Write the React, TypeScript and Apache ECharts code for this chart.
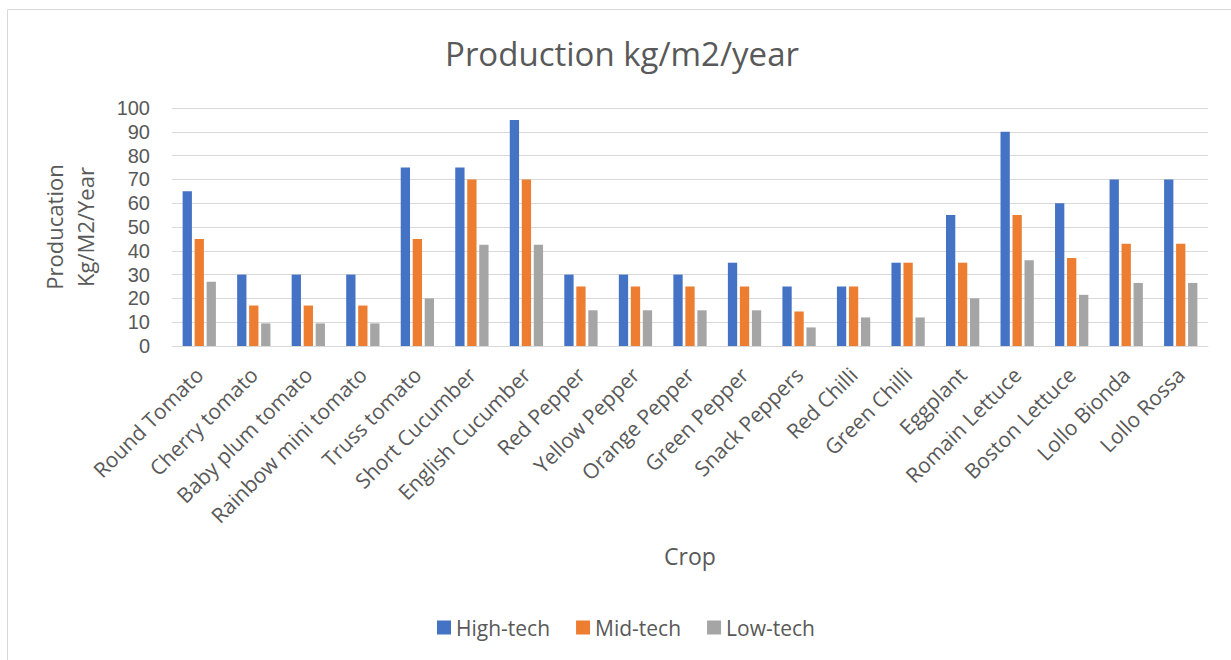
import React, { useEffect, useRef } from "react";
import * as echarts from "echarts";

const categories = [
  "Round Tomato", "Cherry tomato", "Baby plum tomato", "Rainbow mini tomato", "Truss tomato",
  "Short Cucumber", "English Cucumber", "Red Pepper", "Yellow Pepper", "Orange Pepper",
  "Green Pepper", "Snack Peppers", "Red Chilli", "Green Chilli", "Eggplant",
  "Romain Lettuce", "Boston Lettuce", "Lollo Bionda", "Lollo Rossa",
];
const highTech = [65, 30, 30, 30, 75, 75, 95, 30, 30, 30, 35, 25, 25, 35, 55, 90, 60, 70, 70];
const midTech = [45, 17, 17, 17, 45, 70, 70, 25, 25, 25, 25, 14.5, 25, 35, 35, 55, 37, 43, 43];
const lowTech = [27, 9.5, 9.5, 9.5, 20, 42.5, 42.5, 15, 15, 15, 15, 7.8, 12, 12, 20, 36, 21.5, 26.5, 26.5];
const seriesNames = ["High-tech", "Mid-tech", "Low-tech"];
const colors = ["#4472C4", "#ED7D31", "#A5A5A5"];

const FONT = "Open Sans";
const TICK_FONT = "Liberation Sans";
const TEXT = "#595959";

export default function App() {
  const ref = useRef<HTMLDivElement>(null);
  useEffect(() => {
    const chart = echarts.init(ref.current!, null, { renderer: "svg" });
    const values = [highTech, midTech, lowTech];
    chart.setOption({
      animation: false,
      backgroundColor: "#ffffff",
      textStyle: { fontFamily: FONT, color: TEXT },
      graphic: [
        {
          type: "rect",
          shape: { x: 7.5, y: 9.5, width: 1240, height: 700 },
          style: { fill: "none", stroke: "#D9D9D9", lineWidth: 1 },
          silent: true,
        },
        {
          type: "text",
          x: 622,
          y: 53,
          style: {
            text: "Production kg/m2/year",
            font: `33px "${FONT}"`,
            fill: TEXT,
            align: "center",
            verticalAlign: "middle",
          },
        },
      ],
      legend: {
        left: 432,
        top: 612,
        icon: "rect",
        itemWidth: 14,
        itemHeight: 14,
        itemGap: 26,
        textStyle: { fontFamily: FONT, fontSize: 21, color: TEXT },
        data: seriesNames,
      },
      grid: { left: 172, right: 23, top: 108, bottom: 314, containLabel: false },
      xAxis: {
        type: "category",
        data: categories,
        name: "Crop",
        nameLocation: "middle",
        nameGap: 198,
        nameTextStyle: { fontFamily: FONT, fontSize: 23, color: TEXT },
        axisLine: { lineStyle: { color: "#D9D9D9", width: 1 } },
        axisTick: { show: false },
        axisLabel: {
          interval: 0,
          rotate: 45,
          margin: 25,
          fontFamily: FONT,
          fontSize: 21,
          color: TEXT,
        },
      },
      yAxis: {
        type: "value",
        min: 0,
        max: 100,
        interval: 10,
        name: "Producation\nKg/M2/Year",
        nameLocation: "middle",
        nameRotate: 90,
        nameGap: 72,
        nameTextStyle: { fontFamily: FONT, fontSize: 22, color: TEXT, lineHeight: 31 },
        axisLine: { show: false },
        axisTick: { show: false },
        splitLine: { lineStyle: { color: "#D9D9D9", width: 1 } },
        axisLabel: { margin: 22, fontFamily: TICK_FONT, fontSize: 20, lineHeight: 20, color: TEXT },
      },
      series: seriesNames.map((name, i) => ({
        name,
        type: "bar",
        data: values[i],
        barWidth: 9.3,
        barGap: "29%",
        itemStyle: { color: colors[i] },
      })),
    });
    return () => chart.dispose();
  }, []);
  return (
    <div
      ref={ref}
      style={{ position: "absolute", left: 0, top: 0, width: 1231, height: 660 }}
    />
  );
}
